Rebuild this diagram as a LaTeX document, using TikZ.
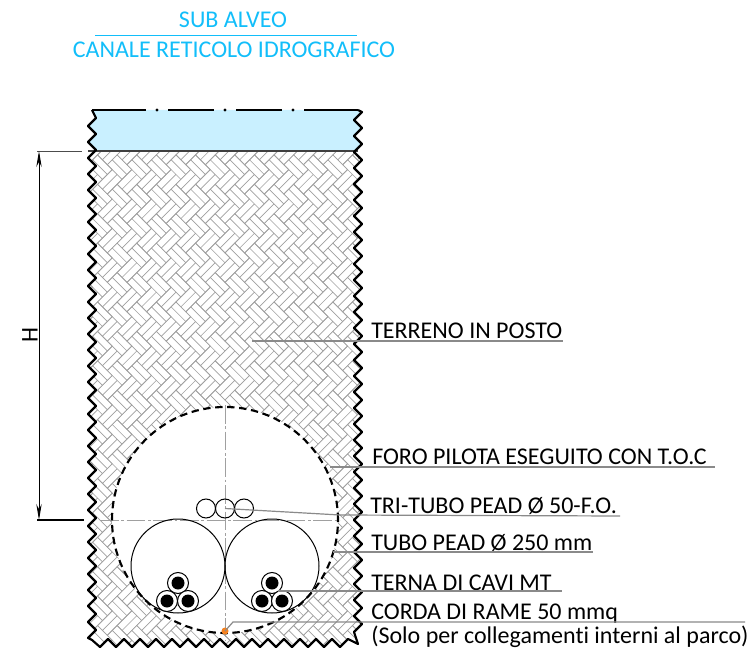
\documentclass[tikz,border=0pt]{standalone}
\usepackage{fontspec}
\setmainfont{Carlito}[Ligatures=NoCommon]
\usetikzlibrary{arrows.meta}
\definecolor{titleblue}{HTML}{12BEFA}
\definecolor{water}{HTML}{C9F0FF}
\definecolor{hatch}{HTML}{A0A0A0}
\definecolor{leader}{HTML}{8A8A8A}
\definecolor{copper}{HTML}{F58220}
\tikzset{
  title/.style={inner sep=0pt,anchor=base,text=titleblue,font=\fontsize{18pt}{20pt}\selectfont},
  label/.style={inner sep=0pt,anchor=base west,text=black,font=\fontsize{18pt}{20pt}\selectfont},
  leaderline/.style={draw=leader,line width=0.9pt},
  tube/.style={draw=black,line width=0.75pt,fill=white,circle,inner sep=0pt},
  cableout/.style={draw=black,line width=0.75pt,fill=white,circle,inner sep=0pt,minimum size=15.75pt},
  cablein/.style={fill=black,circle,inner sep=0pt,minimum size=9.75pt},
  centerline/.style={draw=hatch,line width=0.7pt,dash pattern=on 14pt off 2pt on 2pt off 2pt},
  border/.style={draw=black,line width=1.6pt,line join=round},
}
\newcommand{\groundpath}{(92,110)
  \foreach \n in {0,...,32}{ -- (96,{118+16*\n}) -- (88,{126+16*\n}) } -- (92,640)
  \foreach \n in {0,...,15}{ -- ({100+16*\n},647) -- ({108+16*\n},639) } -- (358,644)
  \foreach \n in {0,...,32}{ -- (354,{632-16*\n}) -- (362,{624-16*\n}) } -- (358,110)}
\begin{document}
\begin{tikzpicture}[x=0.75pt,y=-0.75pt]
\useasboundingbox (0,0) rectangle (750,649);
\fill[white] (0,0) rectangle (750,649);
% ground
\begin{scope}
  \clip \groundpath -- cycle;
  \fill[water] (80,105) rectangle (370,151);
  \begin{scope}
    \clip (80,151) rectangle (370,655);
    \begin{scope}[shift={(225,400)},rotate=45,x=5.2pt,y=5.2pt]
      \foreach \m in {-22,...,22}{
        \foreach \n in {-15,...,15}{
          \pgfmathtruncatemacro{\px}{-2*\m+3*\n}
          \pgfmathtruncatemacro{\py}{2*\m+3*\n}
          \pgfmathtruncatemacro{\keep}{(abs(\px)<46)&&(abs(\py)<46)?1:0}
          \ifnum\keep=1
          \draw[hatch,line width=0.5pt]
            (\px,\py) rectangle ++(3,1) ++(-3,0) rectangle ++(3,1)
            (\px+3,\py) rectangle ++(1,3) ++(0,-3) rectangle ++(1,3);
          \fi
        }
      }
    \end{scope}
  \end{scope}
\end{scope}
\draw[draw=black!75,line width=0.8pt] (88,151) -- (358,151);
% bore
\node[circle,fill=white,inner sep=0pt,minimum size=169.5pt] (bore) at (225,520) {};
\draw[border,line cap=butt] (92,110) -- (146,110) (168,110) -- (214,110) (236,110) -- (282,110) (304,110) -- (358,110);
\fill (157,110) circle (1.2pt) (225,110) circle (1.2pt) (293,110) circle (1.2pt);
\draw[border] \groundpath;
% centre lines
\coordinate (vt) at (225,405); \coordinate (vb) at (225,640);
\coordinate (hl) at (100,520); \coordinate (hr) at (340,520);
\draw[centerline] (vt) -- (vb);
\draw[centerline] (hl) -- (hr);
\draw[black,line width=1.6pt,dash pattern=on 5.5pt off 3.5pt] (bore.center) circle[radius=84.75pt];
% tubes
\node[tube,fill=none,minimum size=70.5pt] (tl) at (178,566) {};
\node[tube,fill=none,minimum size=70.5pt] (tr) at (272,566) {};
\foreach \nm/\x in {ta/206,tb/225,tc/244}
  \node[tube,fill=none,minimum size=14.25pt] (\nm) at (\x,508.5) {};
\foreach \nm/\x/\y in {la/178/583,lb/167/601,lc/188/601,ra/272/583,rb/262/601,rc/282/601}{
  \node[cableout] (\nm) at (\x,\y) {};
  \node[cablein] (\nm i) at (\x,\y) {};
}
\node[circle,fill=copper,inner sep=0pt,minimum size=5.25pt] (cu) at (225,631) {};
% dimension
\coordinate (dt) at (39,151); \coordinate (db) at (39,520);
\coordinate (et) at (82,151); \coordinate (eb) at (84,520);
\draw[black!70,line width=0.7pt] (37,151) -- (et);
\draw[black,line width=0.9pt] (37,520) -- (eb);
\draw[black,line width=0.75pt,{Stealth[length=12pt,width=4pt]}-{Stealth[length=12pt,width=4pt]}] (dt) -- (db);
\node[rotate=90,inner sep=0pt,font=\fontsize{18pt}{20pt}\selectfont] (dim) at (30,335) {H};
% labels
\node[title] (t1) at (233,28) {SUB ALVEO};
\node[title] (t2) at (234,58) {CANALE RETICOLO IDROGRAFICO};
\coordinate (t3) at (95,35); \coordinate (t4) at (357,35);
\draw[titleblue,line width=0.6pt] (t3) -- (t4);
\node[label] (l1) at (371,338) {TERRENO IN POSTO};
\node[label] (l2) at (372,464) {FORO PILOTA ESEGUITO CON T.O.C};
\node[label] (l3) at (370,513) {TRI-TUBO PEAD Ø 50-F.O.};
\node[label] (l4) at (371,550) {TUBO PEAD Ø 250 mm};
\node[label] (l5) at (371,590) {TERNA DI CAVI MT};
\node[label] (l6) at (371,619) {CORDA DI RAME 50 mmq};
\node[label] (l7) at (371,643) {(Solo per collegamenti interni al parco)};
% leaders
\coordinate (a1) at (252,341); \coordinate (b1) at (563,341);
\coordinate (a2) at (330,467); \coordinate (b2) at (715,467);
\coordinate (a3) at (340,515); \coordinate (b3) at (620,516);
\coordinate (a4) at (333,552); \coordinate (b4) at (593,552);
\coordinate (a5) at (278,591); \coordinate (b5) at (562,591);
\coordinate (a6) at (233,622); \coordinate (b6) at (745,622);
\draw[leaderline] (a1) -- (b1);
\draw[leaderline] (a2) -- (b2);
\draw[leaderline] (tb.center) -- (a3) -- (b3);
\draw[leaderline] (a4) -- (b4);
\draw[leaderline] (a5) -- (b5);
\draw[leaderline] (cu.center) -- (a6) -- (b6);
\end{tikzpicture}
\end{document}
